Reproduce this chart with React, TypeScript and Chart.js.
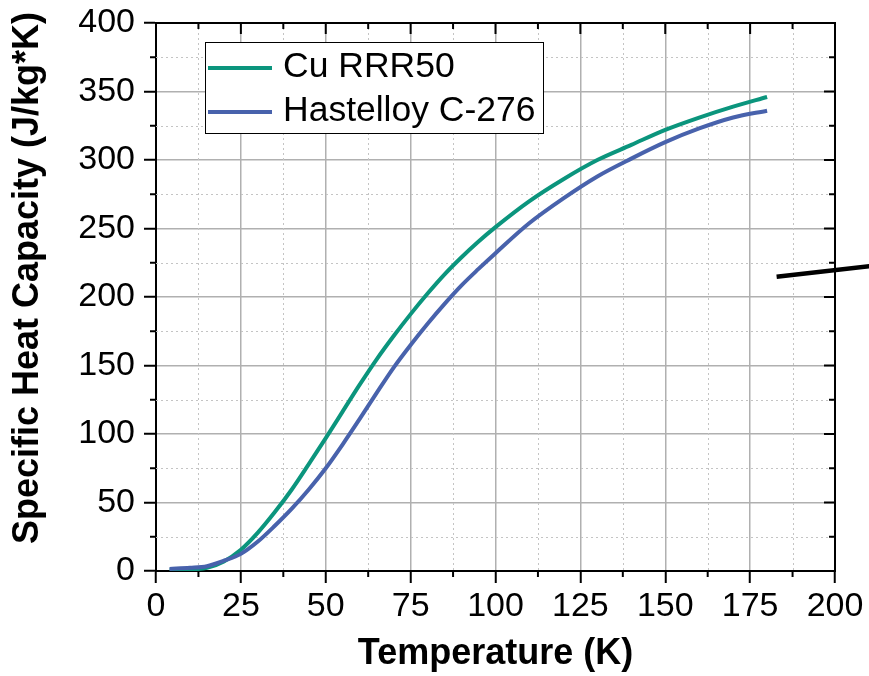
import React, { useEffect, useRef } from 'react';
import { Chart, registerables } from 'chart.js';

Chart.register(...registerables);

// ---- Data ----
const temperatures = [4, 10, 15, 20, 25, 30, 35, 40, 45, 50, 55, 60, 65, 70, 75, 80, 85, 90, 95, 100, 110, 120, 130, 140, 150, 160, 170, 180];
const cuRRR50 = [0.5, 1.1, 2.3, 7, 15.5, 28, 43, 59.5, 78, 97, 116.5, 136, 154.5, 171.5, 187.5, 202.5, 216.5, 229, 240.5, 251, 270, 286, 300, 311, 322, 331, 339, 346];
const hastelloyC276 = [1.5, 2.3, 3.5, 7.5, 12.5, 21.5, 33, 45.5, 59.5, 75, 92.5, 111, 130, 148.5, 165, 180.5, 195, 208.5, 220.5, 232, 254, 272, 288, 301, 313, 323, 331, 336];
const strayT = [182.8, 212];
const strayC = [214.8, 223];

const seriesLabels = ['Cu RRR50', 'Hastelloy C-276'];
const seriesColors = ['#0b957d', '#4862ac'];

const xMin = 0, xMax = 200, xStep = 25, xMinorStep = 12.5;
const yMin = 0, yMax = 400, yStep = 50, yMinorStep = 25;
const xTitle = 'Temperature (K)';
const yTitle = 'Specific Heat Capacity (J/kg*K)';

const FONT = "'Liberation Sans', Arial, Helvetica, sans-serif";

const framePlugin = {
  id: 'frame',
  beforeDatasetsDraw(chart: any) {
    const { ctx, chartArea } = chart;
    const xs = chart.scales.x;
    const ys = chart.scales.y;
    ctx.save();
    ctx.strokeStyle = '#c4c4c4';
    ctx.lineWidth = 1;
    ctx.setLineDash([2, 3]);
    for (let v = xMin + xMinorStep; v < xMax; v += xStep) {
      const px = Math.round(xs.getPixelForValue(v)) + 0.5;
      ctx.beginPath();
      ctx.moveTo(px, chartArea.top);
      ctx.lineTo(px, chartArea.bottom);
      ctx.stroke();
    }
    for (let v = yMin + yMinorStep; v < yMax; v += yStep) {
      const py = Math.round(ys.getPixelForValue(v)) + 0.5;
      ctx.beginPath();
      ctx.moveTo(chartArea.left, py);
      ctx.lineTo(chartArea.right, py);
      ctx.stroke();
    }
    ctx.restore();
  },
  afterDraw(chart: any) {
    const { ctx, chartArea } = chart;
    const xs = chart.scales.x;
    const ys = chart.scales.y;
    const { left, right, top, bottom } = chartArea;
    ctx.save();
    ctx.strokeStyle = '#000';
    ctx.lineWidth = 2;
    ctx.setLineDash([]);
    ctx.beginPath();
    ctx.moveTo(left - 1, top);
    ctx.lineTo(right, top);
    ctx.lineTo(right, bottom + 1);
    ctx.stroke();
    const seg = (x1: number, y1: number, x2: number, y2: number) => {
      ctx.beginPath();
      ctx.moveTo(x1, y1);
      ctx.lineTo(x2, y2);
      ctx.stroke();
    };
    for (let v = xMin; v <= xMax; v += xStep) {
      const px = xs.getPixelForValue(v);
      seg(px, top, px, top + 11);
    }
    for (let v = xMin + xMinorStep; v < xMax; v += xStep) {
      const px = xs.getPixelForValue(v);
      seg(px, top, px, top + 6);
      seg(px, bottom, px, bottom + 6);
    }
    for (let v = yMin; v <= yMax; v += yStep) {
      const py = ys.getPixelForValue(v);
      seg(right, py, right - 11, py);
    }
    for (let v = yMin + yMinorStep; v < yMax; v += yStep) {
      const py = ys.getPixelForValue(v);
      seg(right, py, right - 6, py);
      seg(left, py, left - 6, py);
    }
    // y axis title
    ctx.translate(28, (top + bottom) / 2 - 19);
    ctx.rotate(-Math.PI / 2);
    ctx.font = `bold 36px ${FONT}`;
    ctx.fillStyle = '#000';
    ctx.textAlign = 'center';
    ctx.textBaseline = 'middle';
    ctx.fillText(yTitle, 0, 0);
    ctx.restore();
  },
  afterDatasetsDraw(chart: any) {
    const { ctx, chartArea } = chart;
    const items = chart.data.datasets.filter((d: any) => d.label);
    const bx = chartArea.left + 49;
    const by = chartArea.top + 19;
    const bw = 338;
    const bh = 91;
    ctx.save();
    ctx.fillStyle = '#fff';
    ctx.fillRect(bx, by, bw, bh);
    ctx.strokeStyle = '#000';
    ctx.lineWidth = 1;
    ctx.strokeRect(bx + 0.5, by + 0.5, bw, bh);
    ctx.font = `35.5px ${FONT}`;
    ctx.textBaseline = 'middle';
    ctx.textAlign = 'left';
    items.forEach((d: any, i: number) => {
      const cy = by + 25 + i * 44;
      ctx.strokeStyle = d.borderColor;
      ctx.lineWidth = 4;
      ctx.beginPath();
      ctx.moveTo(bx + 3, cy + 1);
      ctx.lineTo(bx + 67, cy + 1);
      ctx.stroke();
      ctx.fillStyle = '#000';
      ctx.fillText(d.label, bx + 78, cy);
    });
    ctx.restore();
  },
};

export default function App() {
  const canvasRef = useRef<HTMLCanvasElement | null>(null);

  useEffect(() => {
    const canvas = canvasRef.current;
    if (!canvas) return;
    const chart = new Chart(canvas, {
      type: 'line',
      data: {
        datasets: [
          {
            label: seriesLabels[0],
            data: temperatures.map((t, i) => ({ x: t, y: cuRRR50[i] })),
            borderColor: seriesColors[0],
            backgroundColor: seriesColors[0],
            borderWidth: 4,
            pointRadius: 0,
            cubicInterpolationMode: 'monotone',
            order: 1,
          },
          {
            label: seriesLabels[1],
            data: temperatures.map((t, i) => ({ x: t, y: hastelloyC276[i] })),
            borderColor: seriesColors[1],
            backgroundColor: seriesColors[1],
            borderWidth: 4,
            pointRadius: 0,
            cubicInterpolationMode: 'monotone',
            order: 0,
          },
          {
            label: '',
            data: strayT.map((t, i) => ({ x: t, y: strayC[i] })),
            borderColor: '#000',
            backgroundColor: '#000',
            borderWidth: 4.5,
            pointRadius: 0,
            clip: false as any,
            order: 2,
          },
        ],
      },
      options: {
        responsive: false,
        animation: false,
        devicePixelRatio: 1,
        layout: { padding: { left: 0, right: 34, top: 23, bottom: 0 } },
        plugins: {
          legend: { display: false },
          tooltip: { enabled: false },
        },
        scales: {
          x: {
            type: 'linear',
            min: xMin,
            max: xMax,
            afterFit: (s: any) => {
              s.height = 105;
              s.paddingLeft = 0;
              s.paddingRight = 0;
            },
            ticks: {
              stepSize: xStep,
              maxRotation: 0,
              autoSkip: false,
              color: '#000',
              padding: 3,
              font: { family: FONT, size: 34 },
            },
            grid: {
              color: '#b0b0b0',
              lineWidth: 1.5,
              tickColor: '#000',
              tickWidth: 2,
              tickLength: 12,
            },
            border: { display: true, color: '#000', width: 2 },
            title: {
              display: true,
              text: xTitle,
              color: '#000',
              font: { family: FONT, size: 36, weight: 'bold' },
              padding: { top: 0, bottom: 0 },
            },
          },
          y: {
            type: 'linear',
            min: yMin,
            max: yMax,
            afterFit: (s: any) => {
              s.width = 156;
              s.paddingTop = 0;
              s.paddingBottom = 0;
            },
            ticks: {
              stepSize: yStep,
              autoSkip: false,
              color: '#000',
              padding: 9,
              font: { family: FONT, size: 34 },
            },
            grid: {
              color: '#b0b0b0',
              lineWidth: 1.5,
              tickColor: '#000',
              tickWidth: 2,
              tickLength: 12,
            },
            border: { display: true, color: '#000', width: 2 },
            title: { display: false, text: yTitle },
          },
        },
      },
      plugins: [framePlugin],
    } as any);
    return () => chart.destroy();
  }, []);

  return (
    <div style={{ position: 'absolute', left: 0, top: 0, width: 869, height: 676, background: '#fff' }}>
      <canvas ref={canvasRef} width={869} height={676} style={{ display: 'block', width: 869, height: 676 }} />
    </div>
  );
}
